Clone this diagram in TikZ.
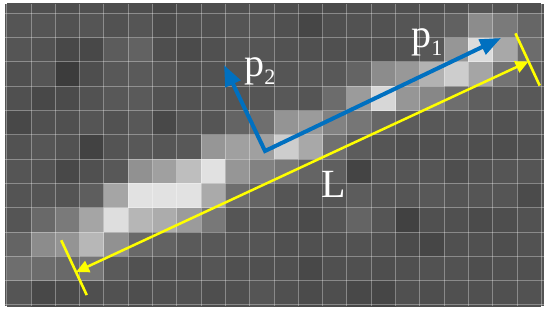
\documentclass[tikz,border=0pt]{standalone}
\usepackage{fontspec}
\setmainfont{Liberation Serif}
\usetikzlibrary{arrows.meta,calc}

\definecolor{axisblue}{RGB}{0,112,192}
\definecolor{lenyellow}{RGB}{255,255,0}
\newcommand{\psub}[1]{p\raisebox{-4pt}{\fontsize{11}{11}\selectfont #1}}
% one row of image cells: row index, grey values 0..255
\newcommand{\cellrow}[2]{%
  \foreach \gv [count=\ci from 0] in {#2} {
    \pgfmathsetmacro{\shade}{\gv/2.55}
    \fill[white!\shade!black] (6.7+24.3*\ci, -11+24.3*#1) rectangle ++(24.3,24.3);
  }}

\begin{document}
\begin{tikzpicture}[x=0.5pt, y=-0.5pt,
  cellgrid/.style={white, opacity=0.33, line width=0.5pt},
  paxis/.style={axisblue, line width=2pt, line join=miter, {Triangle[length=10.5pt,width=8pt]}-{Triangle[length=10.5pt,width=8pt]}},
  lenline/.style={lenyellow, line width=1.25pt, {Triangle[length=6.5pt,width=6pt]}-{Triangle[length=6.5pt,width=6pt]}},
  lenbar/.style={lenyellow, line width=1.3pt},
  plabel/.style={white, inner sep=0pt, anchor=base west, font=\fontsize{20}{20}\selectfont},
]
\useasboundingbox (0,0) rectangle (550,310);
\fill[white] (0,0) rectangle (550,310);

% === Pixel image ===
\begin{scope}
\clip (5,4) rectangle (544,306);
\fill[black!67] (5,4) rectangle (544,306);
\cellrow{0}{82,80,78,80,78,78,72,75,78,80,80,78,75,75,78,80,80,78,80,85,82,80}
\cellrow{1}{85,85,82,85,82,85,75,80,80,85,85,80,70,80,82,82,85,88,97,140,122,102}
\cellrow{2}{85,82,72,72,92,98,78,75,80,85,85,82,80,80,80,80,83,88,150,220,168,108}
\cellrow{3}{80,85,60,78,88,90,85,80,82,85,85,85,88,88,100,140,152,178,205,165,115,92}
\cellrow{4}{80,72,75,82,88,90,82,82,85,85,85,88,85,108,155,215,150,135,110,95,90,88}
\cellrow{5}{72,80,80,85,82,88,72,85,85,100,110,148,155,130,118,102,92,88,88,86,82,86}
\cellrow{6}{82,86,82,66,84,88,86,88,150,160,160,205,168,112,92,85,80,80,82,78,78,80}
\cellrow{7}{85,83,72,80,88,145,160,190,225,150,130,120,100,95,68,85,85,85,78,82,85,85}
\cellrow{8}{84,85,84,94,165,226,226,226,170,110,100,85,82,85,92,85,85,88,85,85,85,75}
\cellrow{9}{85,105,122,165,222,182,172,155,120,85,85,80,75,85,100,85,65,80,80,75,78,82}
\cellrow{10}{100,140,148,183,145,105,98,90,88,85,85,80,80,80,82,80,75,70,80,80,78,82}
\cellrow{11}{110,108,105,118,90,81,80,80,85,80,80,80,72,80,80,78,80,82,82,78,80,80}
\cellrow{12}{85,72,75,79,81,78,80,81,78,80,85,80,75,78,72,70,80,78,80,80,80,82}
\cellrow{13}{85,72,75,79,81,78,80,81,78,80,85,80,75,78,72,70,80,78,80,80,80,82}
\foreach \k in {0,...,22}
  \draw[cellgrid] (6.7+24.3*\k, 4) -- (6.7+24.3*\k, 306);
\foreach \k in {1,...,13}
  \draw[cellgrid] (5, -11+24.3*\k) -- (544, -11+24.3*\k);
\end{scope}

% === Principal axes ===
\coordinate (corner) at (265,151);
\coordinate (p1tip) at (501,38);
\coordinate (p2tip) at (224,65);
\draw[paxis] (p2tip) -- (corner) -- (p1tip);

\node[plabel] (p1lab) at (411,48) {\psub{1}};
\node[plabel] (p2lab) at (244,76) {\psub{2}};

% === Length L ===
\coordinate (Lleft) at (76,272);
\coordinate (Lright) at (528.5,61.5);
\draw[lenline] (Lleft) -- (Lright);
\draw[lenbar] ($(Lleft)!17.5pt!90:(Lright)$) -- ($(Lleft)!12.7pt!-90:(Lright)$);
\draw[lenbar] ($(Lright)!15.5pt!-90:(Lleft)$) -- ($(Lright)!13.3pt!90:(Lleft)$);

\node[plabel] (Llab) at (321,197.3) {L};

\end{tikzpicture}
\end{document}
